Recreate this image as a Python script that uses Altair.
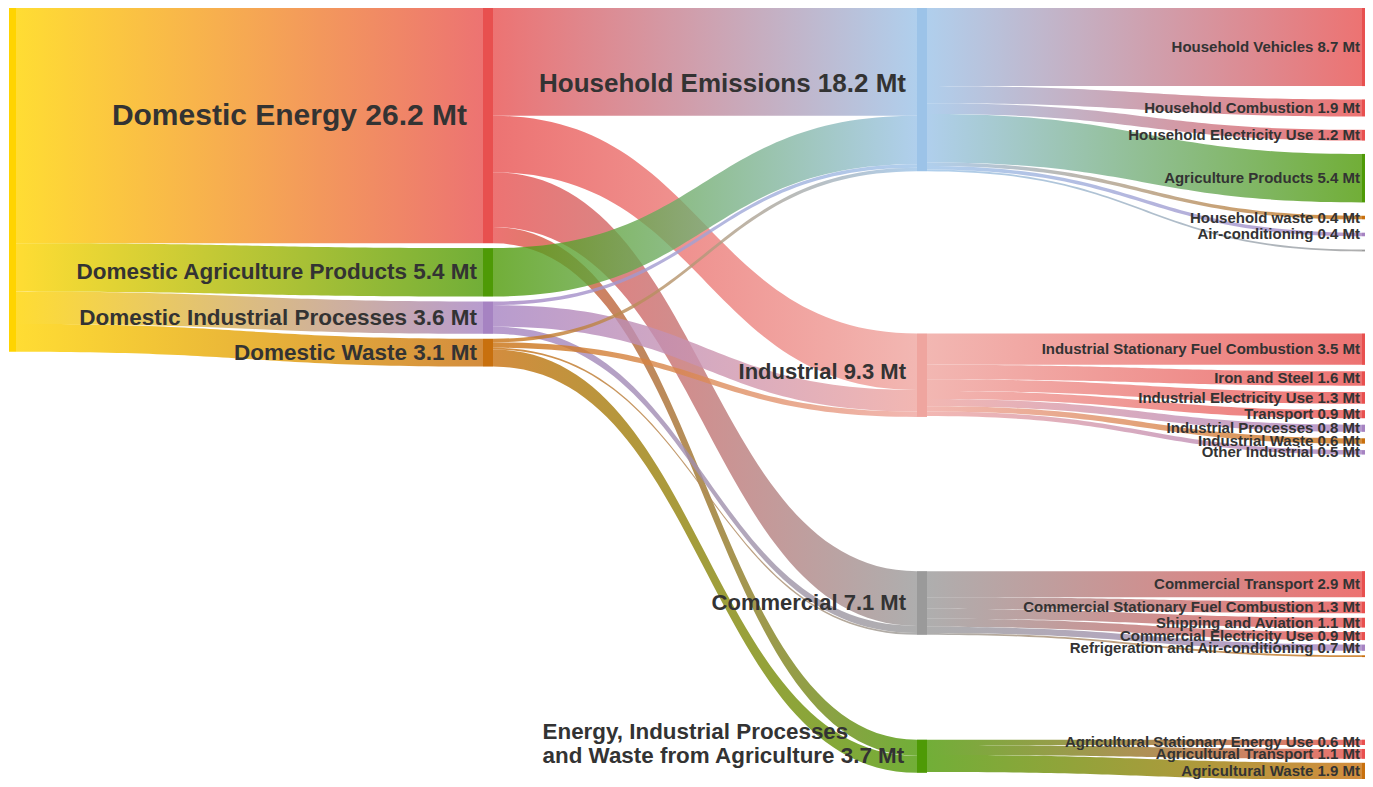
import altair as alt
import numpy as np
import pandas as pd

# ------------------------------------------------------------------ data
# column 1 : domestic sources
source_names = ["Domestic Energy", "Domestic Agriculture Products",
                "Domestic Industrial Processes", "Domestic Waste"]
source_labels = ["26.2 Mt", "5.4 Mt", "3.6 Mt", "3.1 Mt"]
source_kind = ["energy", "agri", "ip", "waste"]

# column 2 : sectors
sector_names = ["Household Emissions", "Industrial", "Commercial",
                "Energy, Industrial Processes\nand Waste from Agriculture"]
sector_labels = ["18.2 Mt", "9.3 Mt", "7.1 Mt", "3.7 Mt"]
sector_kind = ["household", "industrial", "commercial", "agri"]

# flows source -> sector (Mt), order of sectors as above
flow_energy = [12.0, 6.3, 6.1, 1.8]
flow_agri = [5.4, 0.0, 0.0, 0.0]
flow_ip = [0.4, 2.4, 0.8, 0.0]
flow_waste = [0.4, 0.6, 0.2, 1.9]
flows = [flow_energy, flow_agri, flow_ip, flow_waste]

# column 3 : end uses per sector
household_items = ["Household Vehicles", "Household Combustion", "Household Electricity Use",
                   "Agriculture Products", "Household waste", "Air-conditioning", ""]
household_values = [8.7, 1.9, 1.2, 5.4, 0.4, 0.4, 0.2]
household_kind = ["energy", "energy", "energy", "agri", "waste", "ip", "other"]

industrial_items = ["Industrial Stationary Fuel Combustion", "Iron and Steel",
                    "Industrial Electricity Use", "Transport", "Industrial Processes",
                    "Industrial Waste", "Other Industrial"]
industrial_values = [3.5, 1.6, 1.3, 0.9, 0.8, 0.6, 0.5]
industrial_kind = ["energy", "energy", "energy", "energy", "ip", "waste", "ip"]

commercial_items = ["Commercial Transport", "Commercial Stationary Fuel Combustion",
                    "Shipping and Aviation", "Commercial Electricity Use",
                    "Refrigeration and Air-conditioning", ""]
commercial_values = [2.9, 1.3, 1.1, 0.9, 0.7, 0.2]
commercial_kind = ["energy", "energy", "energy", "energy", "ip", "waste"]

agri_items = ["Agricultural Stationary Energy Use", "Agricultural Transport", "Agricultural Waste"]
agri_values = [0.6, 1.1, 1.9]
agri_kind = ["energy", "energy", "waste"]

end_items = [household_items, industrial_items, commercial_items, agri_items]
end_values = [household_values, industrial_values, commercial_values, agri_values]
end_kind = [household_kind, industrial_kind, commercial_kind, agri_kind]

# ------------------------------------------------------------------ style / layout
COLORS = {"total": "#FFD400", "energy": "#E8504F", "agri": "#4E9A06", "ip": "#A683C2",
          "waste": "#C8700E", "household": "#9CC3E8", "industrial": "#EFA59F",
          "commercial": "#9A9A9A", "other": "#9A9A9A"}
K = 9.08                        # px per Mt
COL_X = [9, 483, 917, 1362]     # left edge of node column
NODE_W = [7, 10, 10, 10]
TOP = 3
SRC_GAP = 5
SECTOR_GAPS = [0, 164, 156, 106]     # gap above each sector node
END_GAPS = [13.5, 6.5, 4.5, 4.0]     # gap between end-use nodes of each sector
LABEL_PAD = [0, 6, 11, 2]
FONT_SIZE = [0, 22.5, 22, 15]
FONT = "Liberation Sans"
LABEL_NUDGE = {"Domestic Energy": (10, -10, 30), "Household Emissions": (0, -6, 26),
               "Industrial": (0, -3, None)}
MULTI_DY = -25
MULTI_FS = 22.4

# Liberation Sans Bold advance widths (per 1000 em) for measuring the 2-line label
ADV = {" ": 278, ",": 278, ".": 278, "A": 722, "E": 667, "M": 833, "W": 944, "I": 278,
       "P": 667, "a": 556, "c": 556, "d": 611, "e": 556, "f": 333, "g": 611, "i": 278,
       "l": 278, "m": 889, "n": 611, "o": 611, "r": 389, "s": 556, "t": 333, "u": 611,
       "y": 556}


def text_width(s, size):
    return sum(ADV.get(ch, 556) for ch in s) * size / 1000.0


# ------------------------------------------------------------------ build graph
nodes = []
links = []


def add_node(col, name, value_label, kind):
    nodes.append(dict(col=col, name=name, vlabel=value_label, kind=kind))
    return len(nodes) - 1


total = add_node(0, "", "", "total")
src_ids = [add_node(1, n, l, k) for n, l, k in zip(source_names, source_labels, source_kind)]
sec_ids = [add_node(2, n, l, k) for n, l, k in zip(sector_names, sector_labels, sector_kind)]
end_ids = []
end_links = []
for si, (items, vals, kinds) in enumerate(zip(end_items, end_values, end_kind)):
    ids = []
    for n, v, k in zip(items, vals, kinds):
        i = add_node(3, n, (f"{v} Mt" if n else ""), k)
        ids.append(i)
        end_links.append((sec_ids[si], i, v))
    end_ids.append(ids)

src_links = []
for a, row in enumerate(flows):
    for b, v in enumerate(row):
        if v > 0:
            src_links.append((src_ids[a], sec_ids[b], v))
tot_links = [(total, src_ids[a], sum(row)) for a, row in enumerate(flows)]
links = tot_links + src_links + end_links

for i, n in enumerate(nodes):
    vin = sum(v for s, t, v in links if t == i)
    vout = sum(v for s, t, v in links if s == i)
    n["h"] = max(vin, vout) * K

# vertical placement
nodes[total]["y0"] = TOP
y = TOP
for i in src_ids:
    nodes[i]["y0"] = y
    y += nodes[i]["h"] + SRC_GAP
y = TOP
for g, i in zip(SECTOR_GAPS, sec_ids):
    y += g
    nodes[i]["y0"] = y
    y += nodes[i]["h"]
for si, ids in enumerate(end_ids):
    y = nodes[sec_ids[si]]["y0"]
    for i in ids:
        nodes[i]["y0"] = y
        y += nodes[i]["h"] + END_GAPS[si]
for n in nodes:
    n["x0"] = COL_X[n["col"]]
    n["x1"] = n["x0"] + NODE_W[n["col"]]
    n["y1"] = n["y0"] + n["h"]
    n["color"] = COLORS[n["kind"]]

# link offsets inside the nodes
out_off = {i: nodes[i]["y0"] for i in range(len(nodes))}
in_off = {i: nodes[i]["y0"] for i in range(len(nodes))}
link_geo = {}
for i in range(len(nodes)):
    outs = sorted([l for l in links if l[0] == i], key=lambda l: nodes[l[1]]["y0"])
    for l in outs:
        link_geo.setdefault(l, {})["sy"] = out_off[i]
        out_off[i] += l[2] * K
    ins = sorted([l for l in links if l[1] == i], key=lambda l: nodes[l[0]]["y0"])
    for l in ins:
        link_geo.setdefault(l, {})["ty"] = in_off[i]
        in_off[i] += l[2] * K

# ------------------------------------------------------------------ chart
XS = alt.Scale(domain=[8, 1365])
YS = alt.Scale(domain=[3, 783], reverse=True)
u = np.linspace(0, 1, 60)
b0, b1, b2, b3 = (1 - u) ** 3, 3 * (1 - u) ** 2 * u, 3 * (1 - u) * u ** 2, u ** 3

layers = []
for l in links:
    s, t, v = l
    xa, xb = nodes[s]["x1"], nodes[t]["x0"]
    xm = (xa + xb) / 2
    sy, ty = link_geo[l]["sy"], link_geo[l]["ty"]
    xs = xa * b0 + xm * (b1 + b2) + xb * b3
    ytop = sy * (b0 + b1) + ty * (b2 + b3)
    df = pd.DataFrame({"x": xs, "ya": ytop, "yb": ytop + v * K})
    grad = alt.Gradient(gradient="linear",
                        stops=[alt.GradientStop(color=nodes[s]["color"], offset=0),
                               alt.GradientStop(color=nodes[t]["color"], offset=1)],
                        x1=0, x2=1, y1=0, y2=0)
    layers.append(
        alt.Chart(df).mark_area(color=grad, opacity=0.8, clip=True).encode(
            x=alt.X("x:Q", scale=XS, axis=None),
            y=alt.Y("ya:Q", scale=YS, axis=None),
            y2="yb:Q",
        )
    )

node_df = pd.DataFrame([{k: n[k] for k in ("x0", "x1", "y0", "y1", "color")} for n in nodes])
layers.append(
    alt.Chart(node_df).mark_rect(clip=True).encode(
        x=alt.X("x0:Q", scale=XS, axis=None), x2="x1:Q",
        y=alt.Y("y0:Q", scale=YS, axis=None), y2="y1:Q",
        color=alt.Color("color:N", scale=None),
    )
)

lab_rows = []
multi_rows = []
for i, n in enumerate(nodes):
    if n["col"] == 0 or not n["name"]:
        continue
    text = n["name"] + " " + n["vlabel"]
    right = n["x0"] - LABEL_PAD[n["col"]]
    cy = (n["y0"] + n["y1"]) / 2
    if "\n" in text:
        lines = text.split("\n")
        w = max(text_width(s, MULTI_FS) for s in lines)
        multi_rows.append(dict(x=right - w, y=cy + MULTI_DY, text=text, fs=MULTI_FS))
        continue
    dx, dy, fs = LABEL_NUDGE.get(n["name"], (0, 0, None))
    lab_rows.append(dict(x=right - dx, y=cy + dy, text=text,
                         fs=fs if fs else FONT_SIZE[n["col"]]))

for rows, align in ((lab_rows, "right"), (multi_rows, "left")):
    layers.append(
        alt.Chart(pd.DataFrame(rows)).mark_text(
            align=align, baseline="middle", font=FONT, fontWeight="bold",
            color="#333333", lineBreak="\n", lineHeight=24).encode(
            x=alt.X("x:Q", scale=XS, axis=None),
            y=alt.Y("y:Q", scale=YS, axis=None),
            text="text:N",
            size=alt.Size("fs:Q", scale=None, legend=None),
        )
    )

chart = alt.layer(*layers).properties(
    width=1357, height=771, padding=0, autosize="none", background="white"
).configure_view(stroke=None)

chart.save("out.html", embed_options={"renderer": "svg", "actions": False})
